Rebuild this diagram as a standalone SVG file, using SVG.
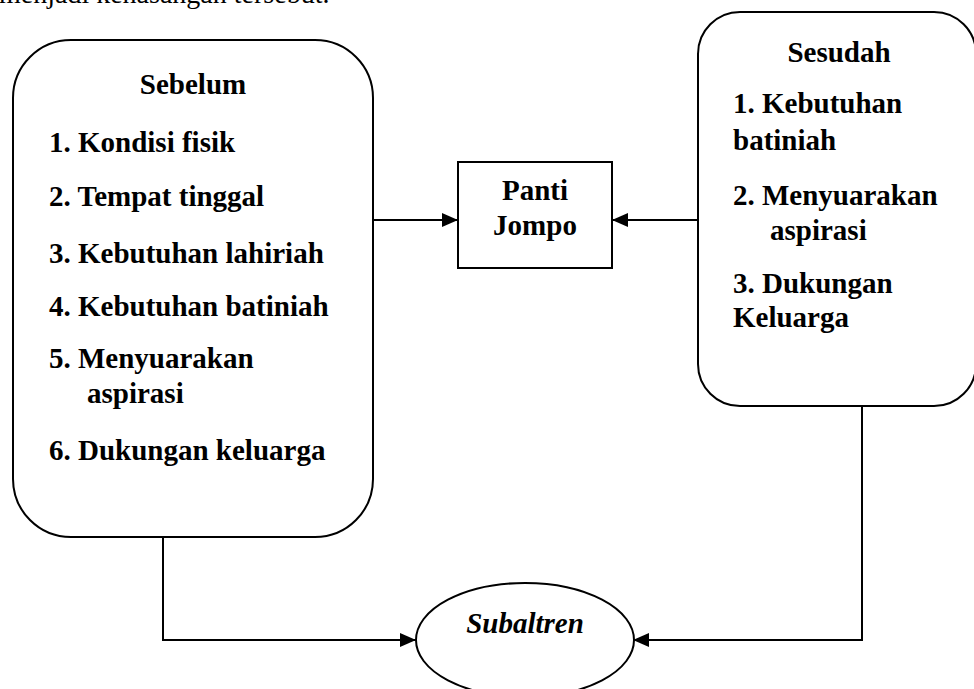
<svg xmlns="http://www.w3.org/2000/svg" width="974" height="689" viewBox="0 0 974 689">
<defs>
<style>
.t{font-family:"Liberation Serif","Times New Roman",serif;font-size:29px;font-weight:bold;fill:#000}
.c{text-anchor:middle}
.s{fill:#fff;stroke:#000;stroke-width:2}
.ln{fill:none;stroke:#000;stroke-width:2}
</style>
<marker id="ah" viewBox="0 0 16 14" refX="16" refY="7" markerWidth="16" markerHeight="14" markerUnits="userSpaceOnUse" orient="auto">
<path d="M0,0 L16,7 L0,14 Z" fill="#000"/>
</marker>
</defs>
<rect width="974" height="689" fill="#fff"/>
<text x="-1" y="3" style="font-family:'Liberation Serif','Times New Roman',serif;font-size:28px;fill:#000">menjadi kenasangan tersebut.</text>
<g id="connectors">
<line class="ln" x1="373" y1="220" x2="458" y2="220" marker-end="url(#ah)"/>
<line class="ln" x1="698" y1="220" x2="612" y2="220" marker-end="url(#ah)"/>
<polyline class="ln" points="163,537 163,640 416,640" marker-end="url(#ah)"/>
<polyline class="ln" points="862,406 862,640 633,640" marker-end="url(#ah)"/>
</g>
<g id="sebelum">
<rect class="s" x="13" y="40" width="360" height="497" rx="58" ry="58"/>
<text class="t c" x="193" y="94">Sebelum</text>
<text class="t" x="49" y="152">1. Kondisi fisik</text>
<text class="t" x="49" y="206">2. Tempat tinggal</text>
<text class="t" x="49" y="263">3. Kebutuhan lahiriah</text>
<text class="t" x="49" y="316">4. Kebutuhan batiniah</text>
<text class="t" x="49" y="368">5. Menyuarakan</text>
<text class="t" x="87" y="403">aspirasi</text>
<text class="t" x="49" y="460">6. Dukungan keluarga</text>
</g>
<g id="panti">
<rect class="s" x="458" y="162" width="154" height="106"/>
<text class="t c" x="535" y="200">Panti</text>
<text class="t c" x="535" y="235">Jompo</text>
</g>
<g id="sesudah">
<rect class="s" x="698" y="12" width="278" height="394" rx="42" ry="42"/>
<text class="t c" x="839" y="62">Sesudah</text>
<text class="t" x="733" y="113">1. Kebutuhan</text>
<text class="t" x="733" y="150">batiniah</text>
<text class="t" x="733" y="205">2. Menyuarakan</text>
<text class="t" x="770" y="240">aspirasi</text>
<text class="t" x="733" y="293">3. Dukungan</text>
<text class="t" x="733" y="327">Keluarga</text>
</g>
<g id="subaltren">
<ellipse class="s" cx="525" cy="640" rx="109" ry="57"/>
<text class="t c" x="525" y="633" font-style="italic">Subaltren</text>
</g>
</svg>
